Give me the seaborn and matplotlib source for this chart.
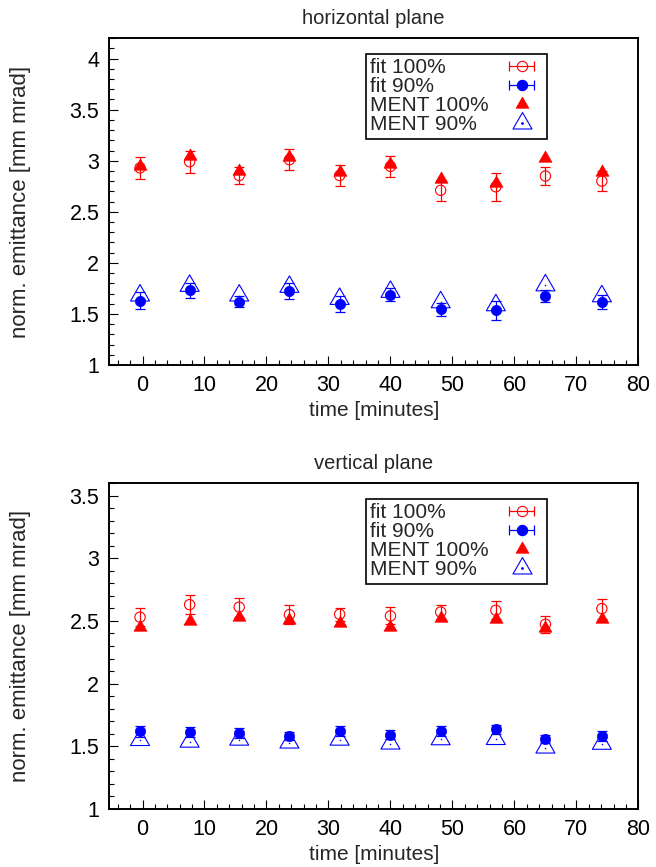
import numpy as np
import pandas as pd
import matplotlib
matplotlib.use("Agg")
import matplotlib.pyplot as plt
import seaborn as sns
from matplotlib.path import Path
from matplotlib.ticker import MultipleLocator, FuncFormatter
from matplotlib.lines import Line2D
from matplotlib.collections import LineCollection
from matplotlib.container import ErrorbarContainer
from matplotlib.legend_handler import HandlerErrorbar, HandlerTuple

# measurement times [minutes]
time_min = [-0.4, 7.6, 15.6, 23.7, 31.8, 40.0, 48.1, 57.0, 65.0, 74.1]

# horizontal plane
h_fit100 = [2.93, 2.99, 2.855, 3.01, 2.855, 2.945, 2.71, 2.745, 2.85, 2.80]
h_fit100_err = [0.11, 0.11, 0.08, 0.10, 0.10, 0.105, 0.10, 0.135, 0.09, 0.10]
h_fit90 = [1.63, 1.73, 1.62, 1.725, 1.595, 1.69, 1.545, 1.535, 1.675, 1.615]
h_fit90_err = [0.08, 0.075, 0.055, 0.075, 0.077, 0.06, 0.065, 0.09, 0.06, 0.07]
h_ment100 = [2.95, 3.05, 2.90, 3.04, 2.89, 2.97, 2.82, 2.78, 3.03, 2.89]
h_ment90 = [1.68, 1.775, 1.68, 1.765, 1.647, 1.716, 1.614, 1.585, 1.78, 1.673]

# vertical plane
v_fit100 = [2.53, 2.63, 2.61, 2.55, 2.553, 2.54, 2.571, 2.585, 2.473, 2.598]
v_fit100_err = [0.072, 0.077, 0.075, 0.077, 0.05, 0.068, 0.056, 0.07, 0.07, 0.08]
v_fit90 = [1.62, 1.614, 1.609, 1.582, 1.622, 1.592, 1.622, 1.636, 1.556, 1.582]
v_fit90_err = [0.042, 0.04, 0.04, 0.035, 0.04, 0.035, 0.037, 0.037, 0.032, 0.042]
v_ment100 = [2.45, 2.50, 2.53, 2.51, 2.483, 2.45, 2.523, 2.513, 2.446, 2.515]
v_ment90 = [1.55, 1.537, 1.553, 1.53, 1.553, 1.522, 1.556, 1.558, 1.49, 1.52]

panel_titles = ["horizontal plane", "vertical plane"]
panel_ylims = [(1, 4.2), (1, 3.6)]
series_labels = ["fit 100%", "fit 90%", "MENT 100%", "MENT 90%"]

RED = "#ff0000"
BLUE = "#0000ff"

sns.set_style("ticks")
plt.rcParams["font.family"] = ["Liberation Sans", "DejaVu Sans"]
plt.rcParams["font.size"] = 15

# equilateral triangle with its centroid on the data point
TRI = Path([(0, 1), (-0.866, -0.5), (0.866, -0.5), (0, 1)],
           [Path.MOVETO, Path.LINETO, Path.LINETO, Path.CLOSEPOLY])

S_CIRCLE = 55
S_TRI_FILLED = 115
S_TRI_OPEN = 250
CAP = 3.8
LEGEND_ROW_WIDTH_PX = 172

fig = plt.figure(figsize=(6.56, 8.67), dpi=100)
ax_top = fig.add_axes([0.1662, 0.579, 0.807, 0.377])
ax_bot = fig.add_axes([0.1662, 0.0669, 0.807, 0.376])

panels = [
    (ax_top, h_fit100, h_fit100_err, h_fit90, h_fit90_err, h_ment100, h_ment90),
    (ax_bot, v_fit100, v_fit100_err, v_fit90, v_fit90_err, v_ment100, v_ment90),
]


def legend_handles():
    def eb_proxy(filled, color):
        line = Line2D([], [], ls="none", marker="o", markersize=np.sqrt(S_CIRCLE),
                      markerfacecolor=color if filled else "none",
                      markeredgecolor=color, markeredgewidth=0.8)
        cap = Line2D([], [], ls="none", marker="|", markersize=2 * CAP,
                     color=color, markeredgewidth=0.9)
        bars = LineCollection([], colors=color, linewidths=0.9)
        return ErrorbarContainer((line, (cap, cap), (bars,)),
                                 has_xerr=True, has_yerr=False)

    h1 = eb_proxy(False, RED)
    h2 = eb_proxy(True, BLUE)
    h3 = Line2D([], [], ls="none", marker=TRI, markersize=np.sqrt(S_TRI_FILLED),
                markerfacecolor=RED, markeredgecolor=RED, markeredgewidth=0.5)
    h4a = Line2D([], [], ls="none", marker=TRI, markersize=np.sqrt(S_TRI_OPEN),
                 markerfacecolor="none", markeredgecolor=BLUE, markeredgewidth=0.8)
    h4b = Line2D([], [], ls="none", marker="o", markersize=1.0,
                 markerfacecolor=BLUE, markeredgecolor=BLUE)
    return [h1, h2, h3, (h4a, h4b)]


for i, (ax, f100, f100e, f90, f90e, m100, m90) in enumerate(panels):
    df = pd.DataFrame({"time": time_min, "fit100": f100, "fit90": f90,
                       "ment100": m100, "ment90": m90})

    ax.errorbar(df["time"], df["fit100"], yerr=f100e, fmt="none", ecolor=RED,
                elinewidth=0.9, capsize=CAP, capthick=0.9, zorder=2)
    ax.errorbar(df["time"], df["fit90"], yerr=f90e, fmt="none", ecolor=BLUE,
                elinewidth=0.9, capsize=CAP, capthick=0.9, zorder=2)

    sns.scatterplot(data=df, x="time", y="fit100", ax=ax, marker="o",
                    s=S_CIRCLE, facecolor="none", edgecolor=RED,
                    linewidth=0.8, zorder=3, legend=False)
    sns.scatterplot(data=df, x="time", y="fit90", ax=ax, marker="o",
                    s=S_CIRCLE, color=BLUE, edgecolor=BLUE,
                    linewidth=0.5, zorder=3, legend=False)
    sns.scatterplot(data=df, x="time", y="ment100", ax=ax, marker=TRI,
                    s=S_TRI_FILLED, color=RED, edgecolor=RED,
                    linewidth=0.5, zorder=4, legend=False)
    sns.scatterplot(data=df, x="time", y="ment90", ax=ax, marker=TRI,
                    s=S_TRI_OPEN, facecolor="none", edgecolor=BLUE,
                    linewidth=0.8, zorder=4, legend=False)
    sns.scatterplot(data=df, x="time", y="ment90", ax=ax, marker="o",
                    s=1.2, color=BLUE, edgecolor=BLUE, linewidth=0,
                    zorder=4, legend=False)

    ax.set_xlim(-5.4, 80)
    ax.set_ylim(*panel_ylims[i])
    ax.xaxis.set_major_locator(MultipleLocator(10))
    ax.xaxis.set_minor_locator(MultipleLocator(2))
    ax.yaxis.set_major_locator(MultipleLocator(0.5))
    ax.yaxis.set_minor_locator(MultipleLocator(0.1))
    ax.yaxis.set_major_formatter(FuncFormatter(lambda v, p: f"{v:g}"))
    ax.xaxis.set_major_formatter(FuncFormatter(lambda v, p: f"{v:g}"))

    ax.tick_params(which="both", direction="in", top=False, right=False,
                   colors="black", labelsize=15.5)
    ax.tick_params(which="major", length=6.5, width=0.8)
    ax.tick_params(which="minor", length=3.5, width=0.8)
    ax.tick_params(axis="x", which="major", pad=7)
    ax.tick_params(axis="y", which="major", pad=7)
    for sp in ax.spines.values():
        sp.set_visible(True)
        sp.set_linewidth(1.4)
        sp.set_color("black")

    ax.set_title(panel_titles[i], fontsize=14.5, pad=10)
    ax.set_xlabel("time [minutes]", fontsize=15, labelpad=4)
    ax.set_ylabel("norm. emittance [mm mrad]", fontsize=16)
    ax.yaxis.set_label_coords(-0.148, 0.5)

    leg = ax.legend(legend_handles(), series_labels, loc="upper left",
                    bbox_to_anchor=(0.485, 0.952), borderaxespad=0,
                    markerfirst=False, numpoints=1, fontsize=15,
                    frameon=True, fancybox=False, framealpha=1,
                    edgecolor="black", handlelength=2.0, handletextpad=0.4,
                    labelspacing=0.0, borderpad=0.22,
                    handler_map={ErrorbarContainer: HandlerErrorbar(xerr_size=0.6),
                                 tuple: HandlerTuple(ndivide=1)})
    leg.get_frame().set_linewidth(1.2)
    # labels flush left, symbols flush right within each legend row
    for column in leg._legend_handle_box.get_children():
        for row in column.get_children():
            row.mode = "expand"
            row.width = LEGEND_ROW_WIDTH_PX

fig.savefig("out.png", dpi=100)
